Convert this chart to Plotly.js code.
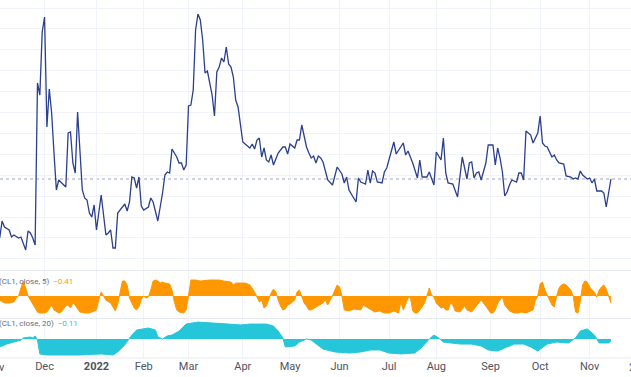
<!DOCTYPE html>
<html>
<head>
<meta charset="utf-8">
<script src="https://cdn.plot.ly/plotly-3.0.1.min.js"></script>
<style>
html,body{margin:0;padding:0;background:#fff;overflow:hidden;}
#chart{width:631px;height:377px;}
</style>
</head>
<body>
<div id="chart"></div>
<script>
// Trading-session index (0 = 1 Nov 2021) for each observation
const mainDay = [2,3,4,6,7,8,10,11,13,14,15,16,17,18,19,20,21,22,23,24,25,26,27,29,30,31,32,33,34,35,
  36,37,38,39,40,41,42,43,45,47,48,49,50,51,52,54,55,56,57,58,59,60,61,62,63,65,66,67,69,71,
  72,73,74,75,77,78,79,80,81,82,83,84,85,86,87,88,89,90,91,92,93,94,95,96,97,98,99,100,101,102,
  103,105,106,108,109,110,111,112,113,114,115,116,117,118,120,122,123,124,125,126,127,128,129,130,
  131,132,133,134,135,136,137,138,139,141,143,145,147,148,149,150,152,153,154,155,157,158,159,160,
  161,162,164,165,166,169,170,173,174,175,177,179,180,181,183,184,186,187,189,190,191,192,194,196,
  197,198,200,201,202,203,204,205,206,208,209,211,212,213,214,215,216,217,218,219,221,222,223,224,
  225,227,228,230,231,232,233,234,236,237,238,239,241,242,244,245,246,247,248,249,251,252,253,254,
  255,257,258,259,261];
const mainValue = [32.4,35.8,34.6,34.0,32.6,33.0,32.4,32.6,30.0,33.8,33.4,32.4,31.0,63.4,61.0,73.6,76.6,54.6,62.2,57.4,49.4,42.0,44.0,43.0,42.6,53.4,53.6,47.4,45.4,57.6,
  50.0,42.0,40.4,40.0,37.4,36.6,39.0,34.0,41.0,33.0,33.4,34.0,30.4,30.4,37.4,38.6,39.2,37.8,39.6,44.6,44.4,42.4,44.6,38.8,38.0,38.6,40.4,39.6,35.8,41.4,
  45.0,45.6,45.4,50.2,48.6,47.4,47.4,46.0,47.0,58.8,59.0,62.0,74.0,77.2,76.0,72.0,65.4,65.8,63.4,61.0,56.8,65.6,66.6,68.4,67.6,70.6,67.2,66.6,64.6,60.0,
  58.6,51.6,51.2,50.4,51.2,50.2,52.0,52.4,48.6,50.4,48.0,47.6,49.0,47.0,49.4,50.6,50.6,49.2,51.2,50.8,50.4,52.0,52.0,55.0,
  53.0,50.6,49.4,48.4,48.8,47.4,48.8,48.4,47.6,44.0,43.0,46.6,45.2,43.4,44.6,42.0,40.4,39.6,44.4,43.6,43.2,46.0,43.4,45.8,
  45.4,43.6,43.4,45.6,46.4,51.6,49.2,51.4,49.0,49.8,47.4,44.4,48.0,44.6,44.6,45.6,43.0,49.6,48.0,52.4,45.4,43.4,43.2,40.6,
  44.6,48.6,44.2,47.4,47.6,44.4,45.4,45.6,44.0,47.4,51.0,51.0,47.0,50.4,48.4,45.6,40.8,41.6,43.0,44.0,43.6,45.4,45.4,44.0,
  53.8,53.0,51.4,53.4,56.8,51.4,50.8,50.6,48.6,49.0,48.0,47.4,47.2,44.8,44.6,44.2,44.4,44.2,45.8,45.0,44.2,44.4,43.4,44.2,
  41.8,41.8,41.4,38.6,44.2];

const corr5Day = [2,4,6,8,9,10,11,12,13,14,15,16,17,18,19,21,22,23,24,25,27,28,30,31,32,33,34,35,36,38,
  40,41,43,44,45,46,47,49,50,51,52,53,54,55,56,57,58,59,60,61,62,63,64,65,66,67,68,69,70,71,
  72,74,75,76,77,78,80,81,82,83,85,87,91,95,97,100,101,102,104,106,108,110,111,112,113,114,115,116,117,118,
  119,120,121,122,123,124,125,127,128,129,130,131,132,133,134,136,137,139,140,141,142,143,144,145,146,147,148,150,152,155,
  156,158,160,161,163,165,167,169,171,172,173,174,175,176,177,178,179,181,182,183,184,185,186,187,189,190,191,192,193,194,
  195,197,199,200,202,204,205,206,208,210,211,212,213,215,216,218,220,222,223,225,227,228,229,230,231,232,233,234,235,236,
  237,238,239,240,241,242,244,245,246,247,248,249,250,251,252,253,254,255,256,257,258,259,260,261];
const corr5Value = [-0.24,-0.41,-0.41,-0.35,-0.12,0,0.47,0.88,0.47,0,-0.24,-0.47,-0.71,-0.94,-1.0,-1.0,-0.94,-0.71,-0.53,-0.82,-1.0,-0.94,-0.59,-0.53,-0.71,-0.41,-0.53,-0.76,-0.94,-1.0,
  -1.0,-0.94,-0.82,-0.2,0.24,0,-0.24,-0.41,-0.65,-0.88,-0.47,0.3,0.88,0.88,0.65,-0.12,-0.41,-0.71,-0.82,-0.65,-0.18,0,-0.12,-0.06,0.35,0.88,0.94,0.88,0.76,0.82,
  0.76,0.71,0.35,-0.35,-0.82,-0.94,-1.0,-0.82,0,0.94,0.94,0.88,0.94,0.94,0.88,0.82,0.65,0.76,0.76,0.76,0.65,0.24,-0.06,-0.35,-0.24,-0.71,-0.59,-0.24,0.18,0.41,
  0.24,-0.24,-0.59,-0.82,-0.76,-0.53,-0.47,-0.24,0.24,0.35,0,-0.41,-0.59,-0.82,-0.82,-0.65,-0.53,-0.41,-0.24,-0.53,-0.24,0,0.35,0.65,0.53,0,-0.82,-0.88,-0.76,-0.82,
  -0.53,-0.71,-0.88,-0.94,-0.88,-1.0,-1.0,-0.88,-1.0,-0.35,-0.82,-0.41,-0.12,-0.06,-0.88,-1.0,-1.0,-0.65,-0.41,0,0.47,0.06,-0.06,-0.41,-0.71,-0.65,-0.82,-0.82,-0.41,-0.53,
  -0.88,-0.94,-0.59,-0.82,-0.94,-0.59,-0.41,-0.24,-0.59,-1.0,-1.0,-0.82,-0.41,-0.06,-0.53,-0.88,-1.0,-1.0,-0.94,-1.0,-0.88,-0.82,-0.24,0,0.71,0.82,0.35,0,-0.24,-0.53,
  -0.65,0,0.47,0.65,0.71,0.65,0.35,0,-0.94,-1.0,-0.3,0.65,0.88,0.82,0.53,0.35,0.24,-0.06,0.35,0.53,0.65,0.41,0,-0.41];

const corr20Day = [2,5,8,10,11,12,15,16,17,18,19,22,36,45,50,52,55,58,60,65,68,69,71,73,75,78,81,86,94,99,
  104,108,115,118,120,122,123,127,129,132,134,136,139,144,150,155,159,163,167,172,178,181,184,186,188,190,193,197,202,206,
  209,213,216,220,224,227,230,231,234,238,243,246,248,251,254,256,258,260,261];
const corr20Value = [-0.44,-0.28,-0.17,-0.11,-0.06,0.06,0.11,0.06,0.17,-0.06,-0.83,-0.89,-0.89,-0.83,-0.89,-0.72,-0.33,0.22,0.5,0.61,0.5,0.11,0,0.17,0.22,0.44,0.83,0.94,0.89,0.83,
  0.78,0.83,0.83,0.72,0.44,0.06,-0.44,-0.39,-0.17,0,-0.06,-0.28,-0.56,-0.72,-0.78,-0.72,-0.61,-0.61,-0.78,-0.83,-0.78,-0.44,0,0.22,0.06,-0.17,-0.22,-0.28,-0.28,-0.39,
  -0.61,-0.67,-0.5,-0.28,-0.28,-0.44,-0.67,-0.56,-0.28,-0.17,-0.22,0.06,0.44,0.56,0.22,-0.22,-0.22,-0.22,-0.11];

// Month ticks (first session of each month)
const monthDay = [21,43,63,82,105,125,146,167,187,210,231,252];
const monthLabel = ['Dec','<b>2022</b>','Feb','Mar','Apr','May','Jun','Jul','Aug','Sep','Oct','Nov'];

const label5 = '(CL1, close, 5)';
const label20 = '(CL1, close, 20)';
const last5 = corr5Value[corr5Value.length-1];
const last20 = corr20Value[corr20Value.length-1];

console.log(mainDay.length, mainValue.length, corr5Day.length, corr5Value.length, corr20Day.length, corr20Value.length);

const ORANGE = '#ff9800', CYAN = '#26c6da', NAVY = '#2b3f8c', GRID = '#f0f3fa';

const traces = [
  {x: mainDay, y: mainValue, xaxis:'x', yaxis:'y', type:'scatter', mode:'lines',
   line:{color:NAVY, width:1.3}, hoverinfo:'skip'},
  {x: corr5Day, y: corr5Value, xaxis:'x', yaxis:'y2', type:'scatter', mode:'lines',
   fill:'tozeroy', fillcolor:ORANGE, line:{color:ORANGE, width:1}, hoverinfo:'skip'},
  {x: corr20Day, y: corr20Value, xaxis:'x', yaxis:'y3', type:'scatter', mode:'lines',
   fill:'tozeroy', fillcolor:CYAN, line:{color:CYAN, width:1}, hoverinfo:'skip'}
];

const fmt = v => (v < 0 ? '\u2212' : '') + Math.abs(v).toFixed(2);

const layout = {
  width:631, height:377,
  margin:{l:0, r:0, t:0, b:19, pad:0},
  paper_bgcolor:'#ffffff', plot_bgcolor:'#ffffff',
  showlegend:false,
  font:{family:'Roboto, "Open Sans", sans-serif', size:11, color:'#50535e'},
  xaxis:{anchor:'y3', range:[2.12, 269.5], tickmode:'array', tickvals:monthDay, ticktext:monthLabel,
    showgrid:true, gridcolor:GRID, gridwidth:1, zeroline:false, showline:false, ticks:'',
    tickfont:{family:'Roboto, sans-serif', size:11, color:'#50535e'}, fixedrange:true},
  yaxis:{domain:[0.2458,1], range:[26,80], showticklabels:false, tick0:78.4, dtick:4.18,
    gridcolor:GRID, gridwidth:1, zeroline:false, showline:false, ticks:'', fixedrange:true},
  yaxis2:{domain:[0.1117,0.2430], range:[-1.294,1.47], showticklabels:false, showgrid:false,
    zeroline:false, showline:false, ticks:'', fixedrange:true},
  yaxis3:{domain:[0,0.1089], range:[-1.056,1.111], showticklabels:false, showgrid:false,
    zeroline:false, showline:false, ticks:'', fixedrange:true},
  shapes:[
    {type:'line', xref:'paper', x0:0, x1:1, yref:'y', y0:mainValue[mainValue.length-1], y1:mainValue[mainValue.length-1],
     line:{color:'#9aa6c8', width:1, dash:'dot'}, layer:'below'},
    {type:'line', xref:'paper', x0:0, x1:1, yref:'paper', y0:0.2444, y1:0.2444, line:{color:'#e6e9f0', width:1}},
    {type:'line', xref:'paper', x0:0, x1:1, yref:'paper', y0:0.1103, y1:0.1103, line:{color:'#e6e9f0', width:1}},
    {type:'line', xref:'paper', x0:0, x1:1, yref:'paper', y0:0, y1:0, line:{color:'#e6e9f0', width:1}}
  ],
  annotations:[
    {xref:'paper', yref:'paper', x:-0.004, y:(358-281)/358, xanchor:'left', yanchor:'middle', showarrow:false,
     text: label5 + '  <span style="color:' + ORANGE + '">' + fmt(last5) + '</span>',
     font:{family:'Roboto, sans-serif', size:8, color:'#6a6d78'}},
    {xref:'paper', yref:'paper', x:-0.004, y:(358-323)/358, xanchor:'left', yanchor:'middle', showarrow:false,
     text: label20 + '  <span style="color:' + CYAN + '">' + fmt(last20) + '</span>',
     font:{family:'Roboto, sans-serif', size:8, color:'#6a6d78'}},
    {xref:'paper', yref:'paper', x:-5/631, y:(358-367)/358, xanchor:'center', yanchor:'middle', showarrow:false,
     text:'Nov', font:{family:'Roboto, sans-serif', size:11, color:'#50535e'}},
    {xref:'paper', yref:'paper', x:627/631, y:(358-367)/358, xanchor:'left', yanchor:'middle', showarrow:false,
     text:'2023', font:{family:'Roboto, sans-serif', size:11, color:'#50535e'}}
  ]
};

Plotly.newPlot('chart', traces, layout, {displayModeBar:false, staticPlot:true});
</script>
</body>
</html>
